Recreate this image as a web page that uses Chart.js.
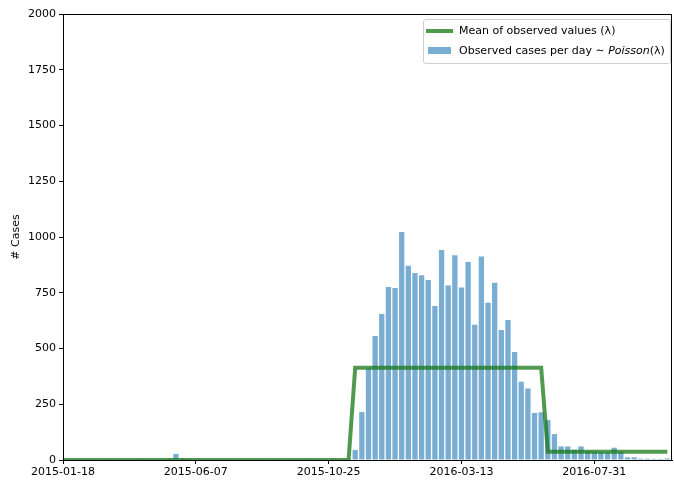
<!DOCTYPE html>
<html>
<head>
<meta charset="utf-8">
<script src="https://cdn.jsdelivr.net/npm/chart.js@4"></script>
<style>
  html, body { margin: 0; padding: 0; background: #fff; }
  #wrap { position: relative; width: 674px; height: 480px; }
  #legend { position: absolute; left: 423px; top: 19px; width: 246px; height: 43px;
    border: 1px solid #d0d0d0; border-radius: 3px; background: rgba(255,255,255,0.85);
    font-family: "DejaVu Sans", sans-serif; font-size: 11px; color: #000; }
  .row { position: absolute; left: 0; height: 14px; line-height: 14px; white-space: nowrap; }
  .sw-line { position: absolute; left: 2px; top: 5px; width: 27px; height: 4px; background: rgba(20,120,20,0.75); }
  .sw-box { position: absolute; left: 4px; top: 3px; width: 23px; height: 7px; background: rgba(31,119,180,0.6); }
  .txt { position: absolute; left: 35px; top: 0; }
</style>
</head>
<body>
<div id="wrap">
  <canvas id="c" width="674" height="480"></canvas>
  <div id="legend">
    <div class="row" style="top:4px;"><span class="sw-line"></span><span class="txt">Mean of observed values (λ)</span></div>
    <div class="row" style="top:24px;"><span class="sw-box"></span><span class="txt">Observed cases per day  ∼ <i>Poisson</i>(λ)</span></div>
  </div>
</div>
<script>
// ---- data ----
const tickWeeks  = [0, 20, 40, 60, 80];
const tickLabels = ['2015-01-18', '2015-06-07', '2015-10-25', '2016-03-13', '2016-07-31'];
const yTicks = [0, 250, 500, 750, 1000, 1250, 1500, 1750, 2000];

// observed cases per week index (week 0 = 2015-01-18)
const cases = [
  0, 0, 2, 0, 3, 0, 0, 4, 0, 2,
  0, 3, 5, 0, 4, 3, 6, 27, 8, 5,
  4, 3, 0, 2, 4, 3, 0, 2, 3, 0,
  2, 0, 3, 0, 2, 0, 3, 4, 2, 3,
  2, 4, 3, 5, 45, 215, 410, 556, 655, 776,
  771, 1022, 871, 839, 828, 807, 691, 942, 783, 918,
  774, 888, 607, 912, 705, 795, 583, 628, 484, 351,
  321, 211, 214, 179, 116, 61, 61, 46, 61, 41,
  38, 36, 34, 55, 37, 12, 12, 6, 6, 5,
  5, 7
];

// mean of observed values (lambda) – breakpoints of the line
const meanWeeks  = [0, 43, 44, 72, 73, 91];
const meanValues = [0, 0, 414, 414, 37, 37];

const FONT = { family: 'DejaVu Sans', size: 11 };

const framePlugin = {
  id: 'frame',
  afterDatasetsDraw(chart) {
    const a = chart.chartArea, ctx = chart.ctx;
    ctx.save();
    ctx.strokeStyle = '#000';
    ctx.lineWidth = 1;
    ctx.strokeRect(Math.round(a.left) + 0.5, Math.round(a.top) + 0.5,
                   Math.round(a.right - a.left) - 1, Math.round(a.bottom - a.top));
    ctx.restore();
  }
};

new Chart(document.getElementById('c'), {
  type: 'bar',
  data: {
    datasets: [
      {
        type: 'line',
        label: 'Mean of observed values (λ)',
        data: meanWeeks.map((w, i) => ({ x: w, y: meanValues[i] })),
        borderColor: 'rgba(20,120,20,0.75)',
        borderWidth: 4,
        pointRadius: 0,
        tension: 0,
        fill: false,
        order: 0
      },
      {
        type: 'bar',
        label: 'Observed cases per day ∼ Poisson(λ)',
        data: cases.map((v, i) => ({ x: i, y: v })),
        backgroundColor: 'rgba(31,119,180,0.6)',
        borderWidth: 0,
        barPercentage: 0.8,
        categoryPercentage: 1.0,
        order: 1
      }
    ]
  },
  options: {
    responsive: false,
    animation: false,
    layout: { padding: { top: 14, right: 2, left: 0, bottom: 0 } },
    plugins: { legend: { display: false }, tooltip: { enabled: false } },
    scales: {
      x: {
        type: 'linear',
        min: 0,
        max: 91.7,
        offset: false,
        grid: { offset: false, drawOnChartArea: false, drawTicks: true, tickLength: 4, color: '#000' },
        border: { display: true, color: '#000' },
        afterBuildTicks(scale) { scale.ticks = tickWeeks.map(v => ({ value: v })); },
        afterFit(scale) { scale.height = 20; },
        ticks: {
          font: FONT, color: '#000', padding: 2, maxRotation: 0, autoSkip: false,
          callback(value) { const k = tickWeeks.indexOf(value); return k >= 0 ? tickLabels[k] : ''; }
        }
      },
      y: {
        min: 0,
        max: 2000,
        grid: { drawOnChartArea: false, drawTicks: true, tickLength: 4, color: '#000' },
        border: { display: true, color: '#000' },
        afterBuildTicks(scale) { scale.ticks = yTicks.map(v => ({ value: v })); },
        afterFit(scale) { scale.width = 63; },
        title: { display: true, text: '# Cases', font: FONT, color: '#000', padding: { top: 10, bottom: 0 } },
        ticks: { font: FONT, color: '#000', padding: 3, callback(value) { return String(value); } }
      }
    }
  },
  plugins: [framePlugin]
});
</script>
</body>
</html>
